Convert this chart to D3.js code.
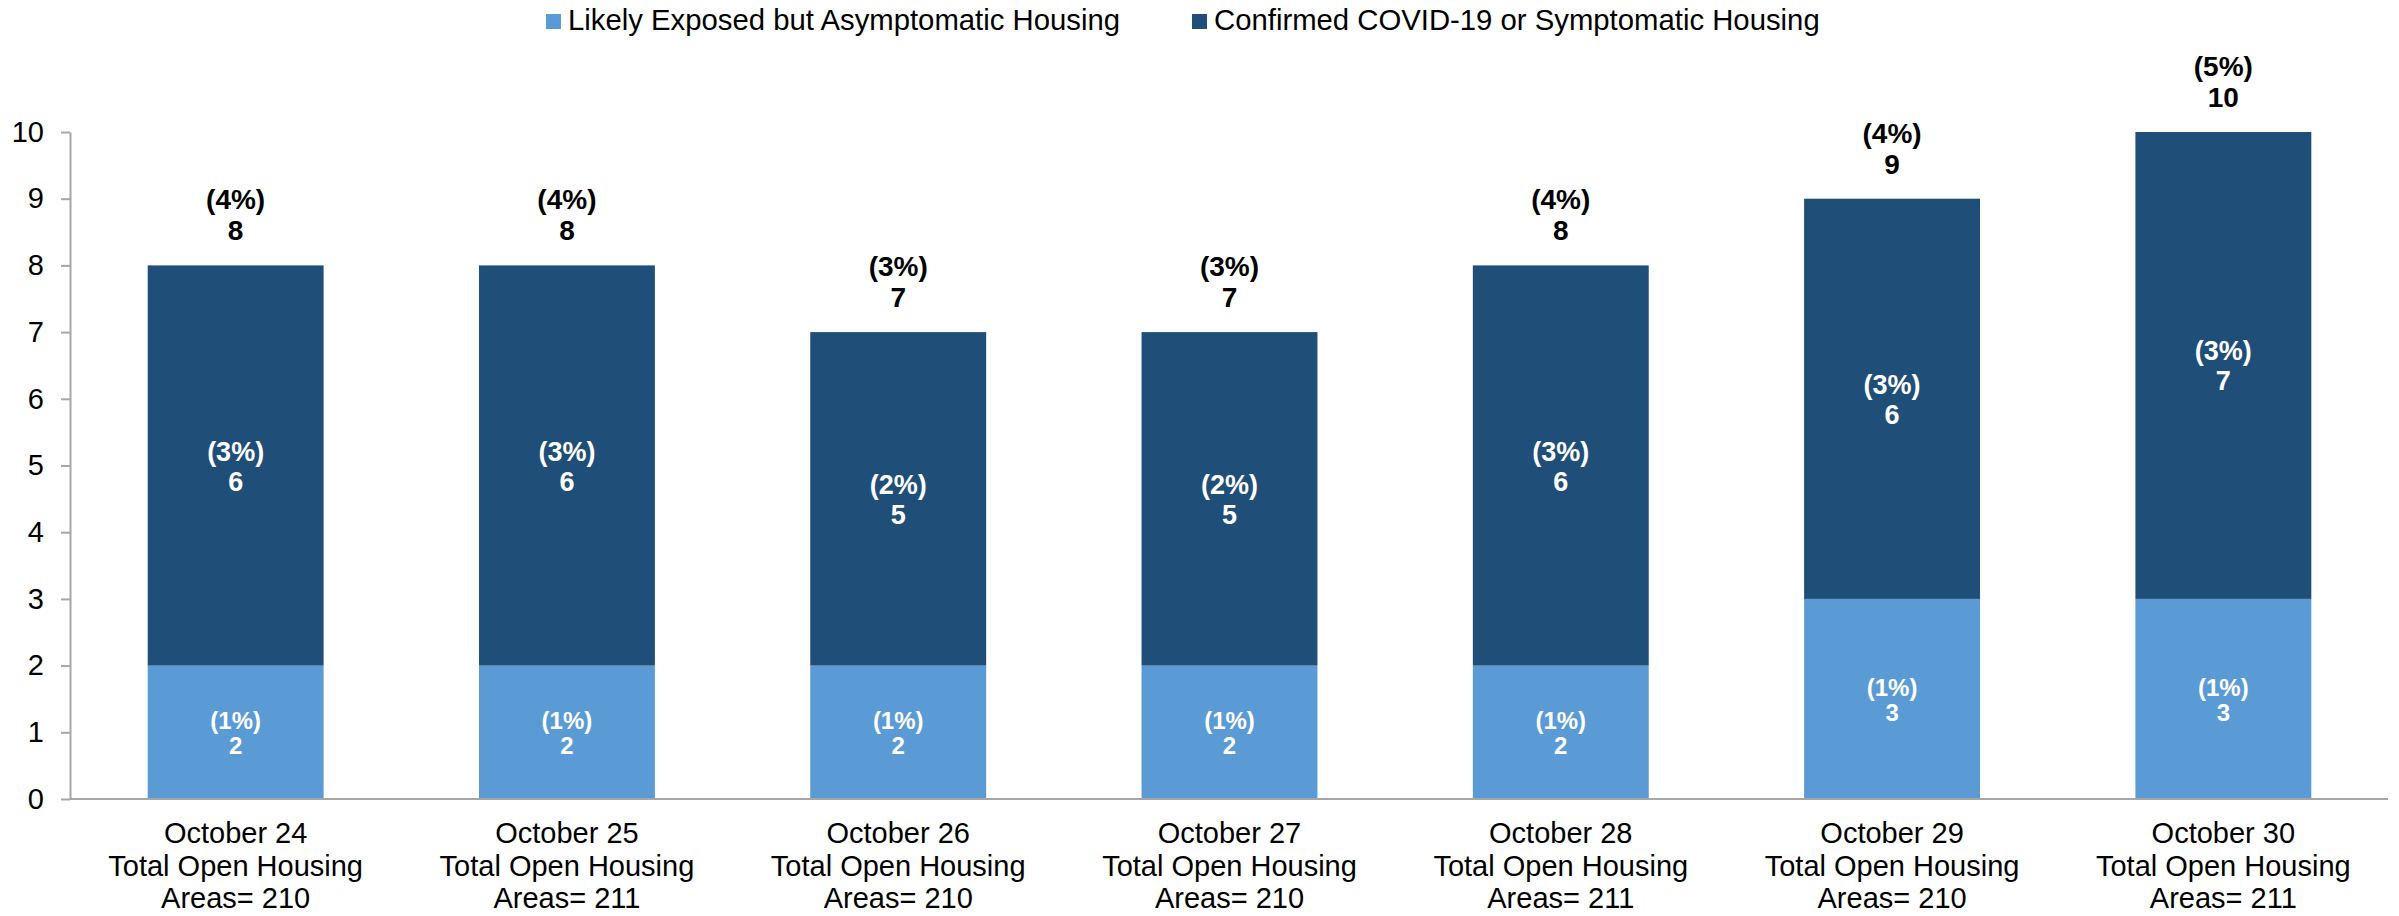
<!DOCTYPE html>
<html>
<head>
<meta charset="utf-8">
<script src="https://cdn.jsdelivr.net/npm/d3@7"></script>
<style>
  body { margin: 0; background: #fff; }
  svg { display: block; font-family: 'Liberation Sans', Arial, sans-serif; }
</style>
</head>
<body>
<svg id="chart"></svg>
<script>
// chart values
const dates = ['October 24', 'October 25', 'October 26', 'October 27', 'October 28', 'October 29', 'October 30']
const openAreas = [210, 211, 210, 210, 211, 210, 211]
const exposed = [2, 2, 2, 2, 2, 3, 3]
const confirmed = [6, 6, 5, 5, 6, 6, 7]
const exposedPct = ['(1%)', '(1%)', '(1%)', '(1%)', '(1%)', '(1%)', '(1%)']
const confirmedPct = ['(3%)', '(3%)', '(2%)', '(2%)', '(3%)', '(3%)', '(3%)']
const totalPct = ['(4%)', '(4%)', '(3%)', '(3%)', '(4%)', '(4%)', '(5%)']
const seriesNames = ['Likely Exposed but Asymptomatic Housing', 'Confirmed COVID-19 or Symptomatic Housing']
const yTicks = [0, 1, 2, 3, 4, 5, 6, 7, 8, 9, 10]

const W = 2399, H = 916
const colors = ['#5B9BD5', '#1F4E79']
const axisGray = '#A6A6A6'

const svg = d3.select('#chart').attr('width', W).attr('height', H)

const rows = dates.map((d, i) => ({ date: d, exposed: exposed[i], confirmed: confirmed[i], i: i }))
const stack = d3.stack().keys(['exposed', 'confirmed'])(rows)

const x = d3.scaleBand().domain(dates).range([70, 2389]).paddingInner(0.469).paddingOuter(0.2345)
const y = d3.scaleLinear().domain([0, 10]).range([799, 132])

// y axis
const yAxis = svg.append('g')
  .attr('transform', 'translate(70,0)')
  .call(d3.axisLeft(y).tickValues(yTicks).tickSize(9).tickSizeOuter(0).tickPadding(17))
yAxis.select('.domain').attr('stroke', axisGray).attr('stroke-width', 2)
yAxis.selectAll('.tick line').attr('stroke', axisGray).attr('stroke-width', 2)
yAxis.selectAll('.tick text').attr('fill', '#000').style('font-size', '29px').style('font-family', 'Liberation Sans, Arial, sans-serif')

// bars
stack.forEach((layer, k) => {
  svg.append('g').selectAll('rect').data(layer).enter().append('rect')
    .attr('x', d => x(d.data.date))
    .attr('width', x.bandwidth())
    .attr('y', d => y(d[1]))
    .attr('height', d => y(d[0]) - y(d[1]))
    .attr('fill', colors[k])
})

// x axis line
svg.append('line')
  .attr('x1', 70).attr('x2', 2388)
  .attr('y1', y(0)).attr('y2', y(0))
  .attr('stroke', axisGray).attr('stroke-width', 2)

// labels inside light segments
const lightLbl = svg.append('g').attr('fill', '#fff').attr('font-weight', 'bold').attr('font-size', 24).attr('text-anchor', 'middle')
stack[0].forEach(d => {
  let cx = x(d.data.date) + x.bandwidth() / 2
  let cy = y((d[0] + d[1]) / 2)
  lightLbl.append('text').attr('x', cx).attr('y', cy - 3).text(exposedPct[d.data.i])
  lightLbl.append('text').attr('x', cx).attr('y', cy + 22).text(d.data.exposed)
})

// labels inside dark segments
const darkLbl = svg.append('g').attr('fill', '#fff').attr('font-weight', 'bold').attr('font-size', 27).attr('text-anchor', 'middle')
stack[1].forEach(d => {
  let cx = x(d.data.date) + x.bandwidth() / 2
  let cy = y((d[0] + d[1]) / 2)
  darkLbl.append('text').attr('x', cx).attr('y', cy - 5).text(confirmedPct[d.data.i])
  darkLbl.append('text').attr('x', cx).attr('y', cy + 25).text(d.data.confirmed)
})

// totals above bars
const topLbl = svg.append('g').attr('fill', '#000').attr('font-weight', 'bold').attr('font-size', 28).attr('text-anchor', 'middle')
stack[1].forEach(d => {
  let cx = x(d.data.date) + x.bandwidth() / 2
  let top = y(d[1])
  topLbl.append('text').attr('x', cx).attr('y', top - 56).text(totalPct[d.data.i])
  topLbl.append('text').attr('x', cx).attr('y', top - 25).text(d[1])
})

// category labels
const catLbl = svg.append('g').attr('fill', '#000').attr('font-size', 29).attr('text-anchor', 'middle')
dates.forEach((d, i) => {
  let cx = x(d) + x.bandwidth() / 2
  catLbl.append('text').attr('x', cx).attr('y', 843).text(d)
  catLbl.append('text').attr('x', cx).attr('y', 876).text('Total Open Housing')
  catLbl.append('text').attr('x', cx).attr('y', 908).text('Areas= ' + openAreas[i])
})

// legend
const legendX = [546, 1192]
seriesNames.forEach((name, k) => {
  const g = svg.append('g').attr('transform', `translate(${legendX[k]},0)`)
  g.append('rect').attr('x', 0).attr('y', 14).attr('width', 15).attr('height', 15).attr('fill', colors[k])
  g.append('text').attr('x', 22).attr('y', 30).attr('font-size', 29.3).attr('fill', '#000').text(name)
})
</script>
</body>
</html>
